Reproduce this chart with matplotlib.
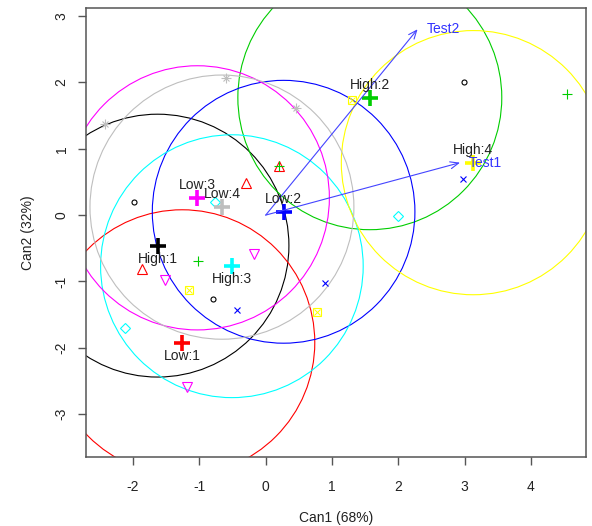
import matplotlib
matplotlib.use("Agg")
import matplotlib.pyplot as plt
from matplotlib.patches import Circle

plt.rcParams['font.family'] = ['Liberation Sans', 'DejaVu Sans']
plt.rcParams['axes.unicode_minus'] = False

# ---- data ----
groups = ["High:1", "Low:1", "High:2", "Low:2", "High:3", "Low:3", "High:4", "Low:4"]
colors = ["black", "red", "#00cd00", "blue", "cyan", "magenta", "yellow", "#bebebe"]
markers = ["o", "^", "+", "x", "D", "v", "sx", "*"]

cent_x = [-1.63, -1.26, 1.57, 0.27, -0.51, -1.03, 3.13, -0.66]
cent_y = [-0.46, -1.92, 1.77, 0.05, -0.77, 0.26, 0.79, 0.12]
radius = [1.98, 2.00, 1.99, 1.98, 1.98, 1.99, 1.99, 1.99]

pts_x = [
    [-1.98, 2.99, -0.79],
    [-1.87, -0.29, 0.20],
    [-1.02, 4.55, 0.20],
    [-0.43, 0.89, 2.97],
    [-2.12, -0.77, 1.99],
    [-0.17, -1.52, -1.18],
    [-1.15, 0.77, 1.30],
    [-2.42, -0.60, 0.46],
]
pts_y = [
    [0.19, 2.00, -1.27],
    [-0.81, 0.48, 0.74],
    [-0.69, 1.82, 0.74],
    [-1.43, -1.02, 0.54],
    [-1.70, 0.19, -0.015],
    [-0.58, -0.98, -2.59],
    [-1.13, -1.46, 1.74],
    [1.37, 2.07, 1.62],
]

vec_names = ["Test1", "Test2"]
vec_x = [2.93, 2.29]
vec_y = [0.79, 2.80]

xlab = "Can1 (68%)"
ylab = "Can2 (32%)"
xticks = [-2, -1, 0, 1, 2, 3, 4]
yticks = [-3, -2, -1, 0, 1, 2, 3]

# ---- figure ----
fig = plt.figure(figsize=(5.92, 5.26), dpi=100)
ax = fig.add_axes([86/592, 1 - 456.7/526, 500/592, 448.7/526])
ax.set_xlim(-2.71, 4.83)
ax.set_ylim(-3.64, 3.12)

# circles
for i, g in enumerate(groups):
    ax.add_patch(Circle((cent_x[i], cent_y[i]), radius[i], fill=False,
                        edgecolor=colors[i], lw=0.8, zorder=2))

# points
msize = {"o": 3.6, "^": 6.5, "+": 6.5, "x": 5.0, "D": 4.8, "v": 6.5}
for i, g in enumerate(groups):
    m = markers[i]
    c = colors[i]
    if m == "sx":
        ax.plot(pts_x[i], pts_y[i], ls="none", marker="s", ms=5.5, mfc="none",
                mec=c, mew=0.8, zorder=3)
        ax.plot(pts_x[i], pts_y[i], ls="none", marker="x", ms=4.0, mec=c,
                mew=0.7, zorder=3)
    elif m == "*":
        ax.plot(pts_x[i], pts_y[i], ls="none", marker="+", ms=6.5, mec=c,
                mew=0.8, zorder=3)
        ax.plot(pts_x[i], pts_y[i], ls="none", marker="x", ms=5.0, mec=c,
                mew=0.8, zorder=3)
    else:
        ax.plot(pts_x[i], pts_y[i], ls="none", marker=m, ms=msize[m], mfc="none",
                mec=c, mew=0.8, zorder=3)

# centroids
for i, g in enumerate(groups):
    ax.plot(cent_x[i], cent_y[i], ls="none", marker="+", ms=11, mew=2.6,
            mec=colors[i], zorder=4)

# vectors
for n, vx, vy in zip(vec_names, vec_x, vec_y):
    ax.annotate("", xy=(vx, vy), xytext=(0, 0),
                arrowprops=dict(arrowstyle="->,head_length=0.6,head_width=0.25",
                                color="#4444ff", lw=0.8, shrinkA=0, shrinkB=0),
                zorder=5)
    ax.annotate(n, xy=(vx, vy), xytext=(9, 0), textcoords="offset pixels",
                ha="left", va="center", color="#3333ff", fontsize=10, zorder=6)

# centroid labels
for i, g in enumerate(groups):
    off = 13 if cent_y[i] >= 0 else -13
    ax.annotate(g, xy=(cent_x[i], cent_y[i]), xytext=(0, off),
                textcoords="offset pixels", ha="center", va="center",
                color="#222222", fontsize=10, zorder=6)

# axes styling
for s in ax.spines.values():
    s.set_color("#555555")
    s.set_linewidth(1.1)
ax.set_xticks(xticks)
ax.set_yticks(yticks)
ax.tick_params(axis="both", colors="#555555", labelcolor="#222222",
               length=5.5, width=1.0, labelsize=10)
ax.tick_params(axis="x", pad=11)
ax.tick_params(axis="y", pad=7)
for lab in ax.get_yticklabels():
    lab.set_rotation(90)
    lab.set_va("center")

ax.set_xlabel(xlab, fontsize=10, color="#222222")
ax.set_ylabel(ylab, fontsize=10, color="#222222")
ax.xaxis.set_label_coords(0.5, (456.7 - 518) / 448.7)
ax.xaxis.label.set_va("center")
ax.yaxis.set_label_coords((28 - 86) / 500, 0.5)
ax.yaxis.label.set_va("center")

fig.savefig("out.png", dpi=100)
